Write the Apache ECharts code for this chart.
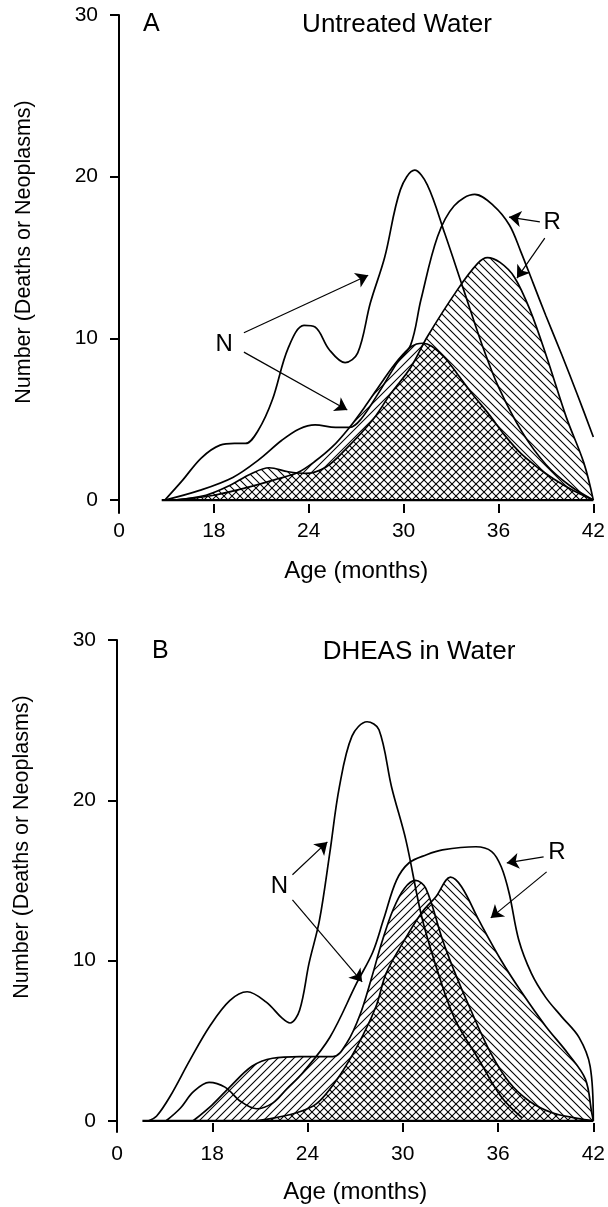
<!DOCTYPE html>
<html><head><meta charset="utf-8">
<script src="https://cdn.jsdelivr.net/npm/echarts@6/dist/echarts.min.js"></script>
<style>html,body{margin:0;padding:0;background:#fff}#c{width:608px;height:1207px}</style>
</head><body><div id="c"></div>
<script>
// ---------- data ----------
// x axis is broken: the first tick (value 12 on the scale) is labelled "0"
const xTicks = [12, 18, 24, 30, 36, 42];
const xTickLabels = ['0', '18', '24', '30', '36', '42'];
const yTicks = [0, 10, 20, 30];

// Panel A - Untreated Water
const aNOutline = [[14.9,0],[16.0,1.2],[17.2,2.6],[18.4,3.4],[19.3,3.5],[20.0,3.5],[20.8,4.3],[21.7,6.2],[22.7,9.4],[23.7,10.8],[24.4,10.7],[25.3,9.3],[26.3,8.5],[27.1,9.1],[27.9,12.2],[28.8,15.0],[29.8,19.2],[30.7,20.4],[31.5,19.5],[32.6,16.5],[33.8,13.0],[35.0,9.5],[36.0,7.0],[37.5,4.2],[39.0,2.2],[40.5,0.9],[42,0]];
const aROutline = [[14.9,0],[17.1,0.6],[19.2,1.4],[20.85,2.5],[22.3,3.7],[23.4,4.4],[24.4,4.65],[25.7,4.5],[26.6,4.5],[27.3,5.0],[28.4,6.6],[29.6,8.5],[30.45,9.6],[31.1,12.4],[32.15,16.3],[33.2,18.2],[34.5,18.9],[35.7,18.2],[36.7,17.0],[37.4,15.4],[38.2,13.4],[39.0,11.4],[40.0,9.0],[41.0,6.5],[42,3.9]];
const aNFilled = [[15.5,0],[18,0.3],[20,0.75],[22,1.3],[23.3,1.7],[24.4,2.4],[25.5,3.3],[26.5,4.4],[27.5,5.7],[28.7,7.4],[29.6,8.6],[30.5,9.5],[31.2,9.7],[31.8,9.5],[32.6,8.8],[33.4,7.8],[34.4,6.5],[35.4,5.3],[36.4,4.0],[37.4,2.9],[38.5,2.0],[39.5,1.3],[40.7,0.6],[42,0]];
const aRFilled = [[15.5,0],[17.5,0.3],[19.0,0.9],[20.3,1.6],[21.5,2.0],[22.7,1.75],[23.8,1.65],[25.1,2.05],[26.3,3.1],[28.0,4.9],[29.2,6.6],[30.45,8.2],[31.5,10.1],[33.4,13.0],[34.7,14.65],[35.3,15.0],[36.1,14.7],[37.0,13.8],[38.0,11.75],[39.05,8.85],[40.3,5.1],[41.4,2.3],[42,0]];
const aBaseline = [[14.7,0],[42,0]];

// Panel B - DHEAS in Water
const bNOutline = [[14.0,0],[14.5,0.3],[15.33,1.5],[16.6,3.8],[17.84,5.9],[19.1,7.5],[20.2,8.05],[21.4,7.4],[22.4,6.4],[22.9,6.1],[23.5,6.9],[24.1,9.85],[24.75,12.5],[25.4,16.7],[26.0,20.8],[26.8,24.0],[27.75,24.9],[28.5,24.4],[29.3,20.8],[30.2,17.5],[31.2,12.7],[32.3,9.0],[33.3,6.3],[34.8,3.8],[36.2,1.5],[37.5,0.2]];
const bROutline = [[15.1,0],[16.0,0.8],[16.8,1.8],[17.8,2.4],[18.8,2.1],[19.8,1.2],[20.8,0.75],[21.8,1.1],[22.7,2.0],[23.7,3.0],[25.4,5.2],[27.1,8.6],[28.1,10.5],[28.8,12.6],[29.6,15.0],[30.4,16.1],[31.5,16.6],[32.5,16.9],[34.6,17.1],[35.6,16.8],[36.2,15.85],[36.7,14.2],[37.3,11.3],[38.1,9.2],[39.0,7.7],[40.0,6.5],[41.1,5.2],[41.8,3.4],[42,0]];
const bNFilled = [[16.8,0],[18.0,1.0],[19.1,2.1],[20.5,3.4],[21.8,3.9],[23.5,4.0],[25.6,4.0],[26.5,4.9],[27.3,6.6],[28.0,8.8],[28.7,11.2],[29.4,13.2],[30.1,14.5],[30.8,15.0],[31.45,14.5],[32.5,11.3],[33.3,9.2],[34.2,7.1],[35.5,4.3],[36.7,2.4],[38.0,1.2],[39.4,0.5],[41.0,0.15],[42,0]];
const bRFilled = [[20.8,0],[22.0,0.2],[23.3,0.5],[24.55,1.05],[25.8,2.5],[27.1,4.6],[28.3,7.1],[28.95,9.2],[30.0,11.1],[31.2,13.0],[32.1,14.0],[33.0,15.2],[33.7,14.6],[34.8,12.5],[36.2,10.0],[37.5,8.0],[39.0,5.9],[40.4,4.2],[41.5,2.6],[41.9,0.5],[42,0]];
const bBaseline = [[13.6,0],[42,0]];

// annotation anchors (data coordinates)
const aNLabel = [18.65, 9.6];
const aNArrows = [[[19.9,10.35],[27.76,13.9]], [[19.9,9.15],[26.44,5.57]]];
const aRLabel = [39.4, 17.2];
const aRArrows = [[[38.62,17.2],[36.67,17.5]], [[38.93,16.2],[37.17,13.73]]];
const bNLabel = [22.23, 14.6];
const bNArrows = [[[23.05,15.35],[25.25,17.4]], [[23.05,13.79],[27.44,8.67]]];
const bRLabel = [39.7, 16.72];
const bRArrows = [[[38.87,16.47],[36.55,16.09]], [[39.06,15.53],[35.54,12.66]]];

// ---------- drawing ----------
const FONT = '"Liberation Sans", Arial, Helvetica, sans-serif';

function hatch(dir, s) {
  const c = document.createElement('canvas');
  c.width = s; c.height = s;
  const g = c.getContext('2d');
  g.strokeStyle = '#000'; g.lineWidth = 1.1;
  g.beginPath();
  if (dir > 0) {
    g.moveTo(0, s); g.lineTo(s, 0);
    g.moveTo(-s/2, s/2); g.lineTo(s/2, -s/2);
    g.moveTo(s/2, s*1.5); g.lineTo(s*1.5, s/2);
  } else {
    g.moveTo(0, 0); g.lineTo(s, s);
    g.moveTo(-s/2, s/2); g.lineTo(s/2, s*1.5);
    g.moveTo(s/2, -s/2); g.lineTo(s*1.5, s/2);
  }
  g.stroke();
  return c;
}
const fwd = {image: hatch(1, 8), repeat: 'repeat'};
const back = {image: hatch(-1, 8), repeat: 'repeat'};

function xAxisCfg(idx, margin, gap) {
  return {
    gridIndex: idx, type: 'value', min: 12, max: 42,
    axisLine: {show: false, onZero: false},
    axisTick: {show: true, inside: true, length: 9, customValues: xTicks, lineStyle: {color: '#000', width: 2}},
    axisLabel: {customValues: xTicks, formatter: v => xTickLabels[xTicks.indexOf(v)], margin: margin, fontSize: 21, color: '#000', fontFamily: FONT},
    splitLine: {show: false},
    name: 'Age (months)', nameLocation: 'middle', nameGap: gap,
    nameTextStyle: {fontSize: 24, color: '#000', fontFamily: FONT}
  };
}
function yAxisCfg(idx, min, pad) {
  return {
    gridIndex: idx, type: 'value', min: min, max: 30,
    axisLine: {show: true, onZero: false, lineStyle: {color: '#000', width: 2}},
    axisTick: {show: true, length: 9, customValues: yTicks, lineStyle: {color: '#000', width: 2}},
    axisLabel: {customValues: yTicks, margin: 21, fontSize: 21, color: '#000', fontFamily: FONT},
    splitLine: {show: false},
    name: 'Number (Deaths or Neoplasms)', nameLocation: 'middle', nameGap: 84,
    nameTextStyle: {fontSize: 21.5, color: '#000', fontFamily: FONT, padding: pad}
  };
}
const SMOOTH = 0.35;
function areaSeries(idx, data, pattern) {
  return {type: 'line', xAxisIndex: idx, yAxisIndex: idx, data: data, smooth: SMOOTH,
    showSymbol: false, silent: true, lineStyle: {color: '#000', width: 1.7},
    areaStyle: {color: pattern, opacity: 1, origin: 0}, z: 2};
}
function lineSeries(idx, data) {
  return {type: 'line', xAxisIndex: idx, yAxisIndex: idx, data: data, smooth: SMOOTH,
    showSymbol: false, silent: true, lineStyle: {color: '#000', width: 1.7}, z: 3};
}
function annot(idx, base, nLab, nArr, rLab, rArr) {
  const arrows = nArr.concat(rArr).map(a => [{coord: a[0]}, {coord: a[1]}]);
  const lab = (t, c) => ({coord: c, symbol: 'circle', symbolSize: 0,
    label: {show: true, formatter: t, position: 'inside', fontSize: 24, color: '#000', fontFamily: FONT}});
  return {type: 'line', xAxisIndex: idx, yAxisIndex: idx, data: base, showSymbol: false, silent: true,
    lineStyle: {color: '#000', width: 2.2}, z: 4,
    markLine: {silent: true, symbol: ['none', 'arrow'], symbolSize: 12, precision: 4, animation: false,
      lineStyle: {color: '#000', width: 1.2, type: 'solid'}, itemStyle: {color: '#000'},
      label: {show: false}, emphasis: {disabled: true}, data: arrows},
    markPoint: {silent: true, animation: false, data: [lab('N', nLab), lab('R', rLab)]}
  };
}

const titleStyle = s => ({fontSize: s, fontWeight: 'normal', color: '#000', fontFamily: FONT});
const chart = echarts.init(document.getElementById('c'), null, {renderer: 'canvas'});
chart.setOption({
  animation: false,
  backgroundColor: '#fff',
  title: [
    {text: 'A', left: 143, top: 12, padding: 0, textStyle: titleStyle(25)},
    {text: 'Untreated Water', left: 397, top: 12, padding: 0, textAlign: 'center', textStyle: titleStyle(26)},
    {text: 'B', left: 152, top: 639, padding: 0, textStyle: titleStyle(25)},
    {text: 'DHEAS in Water', left: 419, top: 639, padding: 0, textAlign: 'center', textStyle: titleStyle(26)}
  ],
  grid: [
    {left: 119, top: 15, width: 478, height: 498},
    {left: 117, top: 640, width: 478, height: 492}
  ],
  xAxis: [xAxisCfg(0, 8, 46), xAxisCfg(1, 12, 48)],
  yAxis: [yAxisCfg(0, -0.8, [0, 0, 0, 24]), yAxisCfg(1, -0.7, [0, 0, 0, 78])],
  series: [
    areaSeries(0, aRFilled, back),
    areaSeries(0, aNFilled, fwd),
    lineSeries(0, aNOutline),
    lineSeries(0, aROutline),
    annot(0, aBaseline, aNLabel, aNArrows, aRLabel, aRArrows),
    areaSeries(1, bRFilled, back),
    areaSeries(1, bNFilled, fwd),
    lineSeries(1, bNOutline),
    lineSeries(1, bROutline),
    annot(1, bBaseline, bNLabel, bNArrows, bRLabel, bRArrows)
  ]
});
</script></body></html>
